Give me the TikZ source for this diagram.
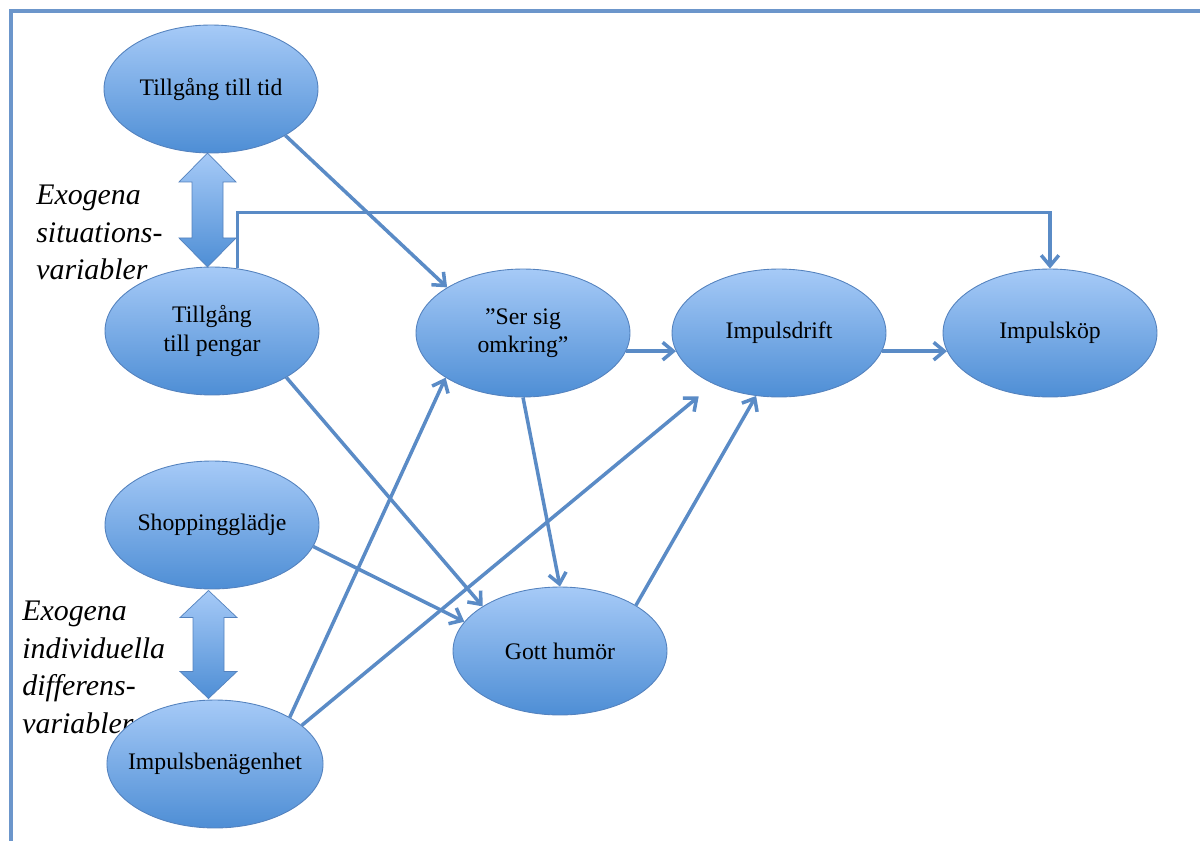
\documentclass[tikz,border=0pt]{standalone}
\usepackage{fontspec}
\setmainfont{Liberation Serif}
\usetikzlibrary{arrows.meta,shapes.geometric,calc}
\definecolor{ovaltop}{RGB}{166,202,247}
\definecolor{ovalbot}{RGB}{78,142,213}
\definecolor{ovalline}{RGB}{84,130,190}
\definecolor{linkblue}{RGB}{90,139,198}
\definecolor{frameblue}{RGB}{108,150,203}
\begin{document}
\begin{tikzpicture}[x=0.02cm, y=-0.02cm,
  oval/.style={ellipse, draw=ovalline, line width=0.5pt, top color=ovaltop, bottom color=ovalbot,
    minimum width=4.28cm, minimum height=2.56cm, inner sep=0pt, align=center,
    font=\fontsize{13.5}{16}\selectfont},
  link/.style={draw=linkblue, line width=2pt, -{Straight Barb[length=6pt,width=10pt]}},
  group/.style={anchor=north west, inner sep=0pt, align=left,
    font=\fontsize{17}{21.3}\selectfont\itshape},
  twoway/.style={draw=ovalline, line width=0.4pt, top color=ovaltop, bottom color=ovalbot}]
\useasboundingbox (0,0) rectangle (1200,841);
\draw[frameblue, line width=2pt] (1200,11) -- (11,11) -- (11,841);
\node[group] (sitlabel) at (36,185) {Exogena\\situations-\\variabler};
\node[group] (indlabel) at (22,601) {Exogena\\individuella\\differens-\\variabler};
\node[oval] (tid) at (211,89) {Tillgång till tid};
\node[oval] (pengar) at (212,331) {Tillgång\\till pengar};
\node[oval] (gladje) at (212,525) {Shoppingglädje};
\node[oval, inner xsep=-6pt] (benagen) at (215,764) {Impulsbenägenhet};
\node[oval] (omkring) at (523,333) {”Ser sig\\omkring”};
\node[oval] (drift) at (779,333) {Impulsdrift};
\node[oval] (kop) at (1050,333) {Impulsköp};
\node[oval] (humor) at (560,651) {Gott humör};
\shade[twoway] ($(tid.south)!0.5!(pengar.north)$) ++(-4,-57) -- ++(28.5,29) -- ++(-13,0)
  -- ++(0,56) -- ++(13,0) -- ++(-28.5,29) -- ++(-28.5,-29) -- ++(13,0)
  -- ++(0,-56) -- ++(-13,0) -- cycle;
\shade[twoway] ($(gladje.south)!0.5!(benagen.north)$) ++(-5,-54) -- ++(28.5,27) -- ++(-13,0)
  -- ++(0,54) -- ++(13,0) -- ++(-28.5,27) -- ++(-28.5,-27) -- ++(13,0)
  -- ++(0,-54) -- ++(-13,0) -- cycle;
\draw[link] (tid.-32) -- (omkring.149);
\draw[link] (pengar.68) -- ++(0,-56) -| (kop.north);
\draw[link] (omkring.-10) -- (drift.190);
\draw[link] (drift.-10) -- (kop.190);
\draw[link] (pengar.-32) -- (humor.150);
\draw[link] (omkring.south) -- (humor.north);
\draw[link] (gladje.-12) -- (humor.163);
\draw[link] (benagen.32) -- (omkring.210);
\draw[link, shorten >=11pt] (benagen.24) -- (drift.218);
\draw[link] (humor.31) -- (drift.250);
\end{tikzpicture}
\end{document}
